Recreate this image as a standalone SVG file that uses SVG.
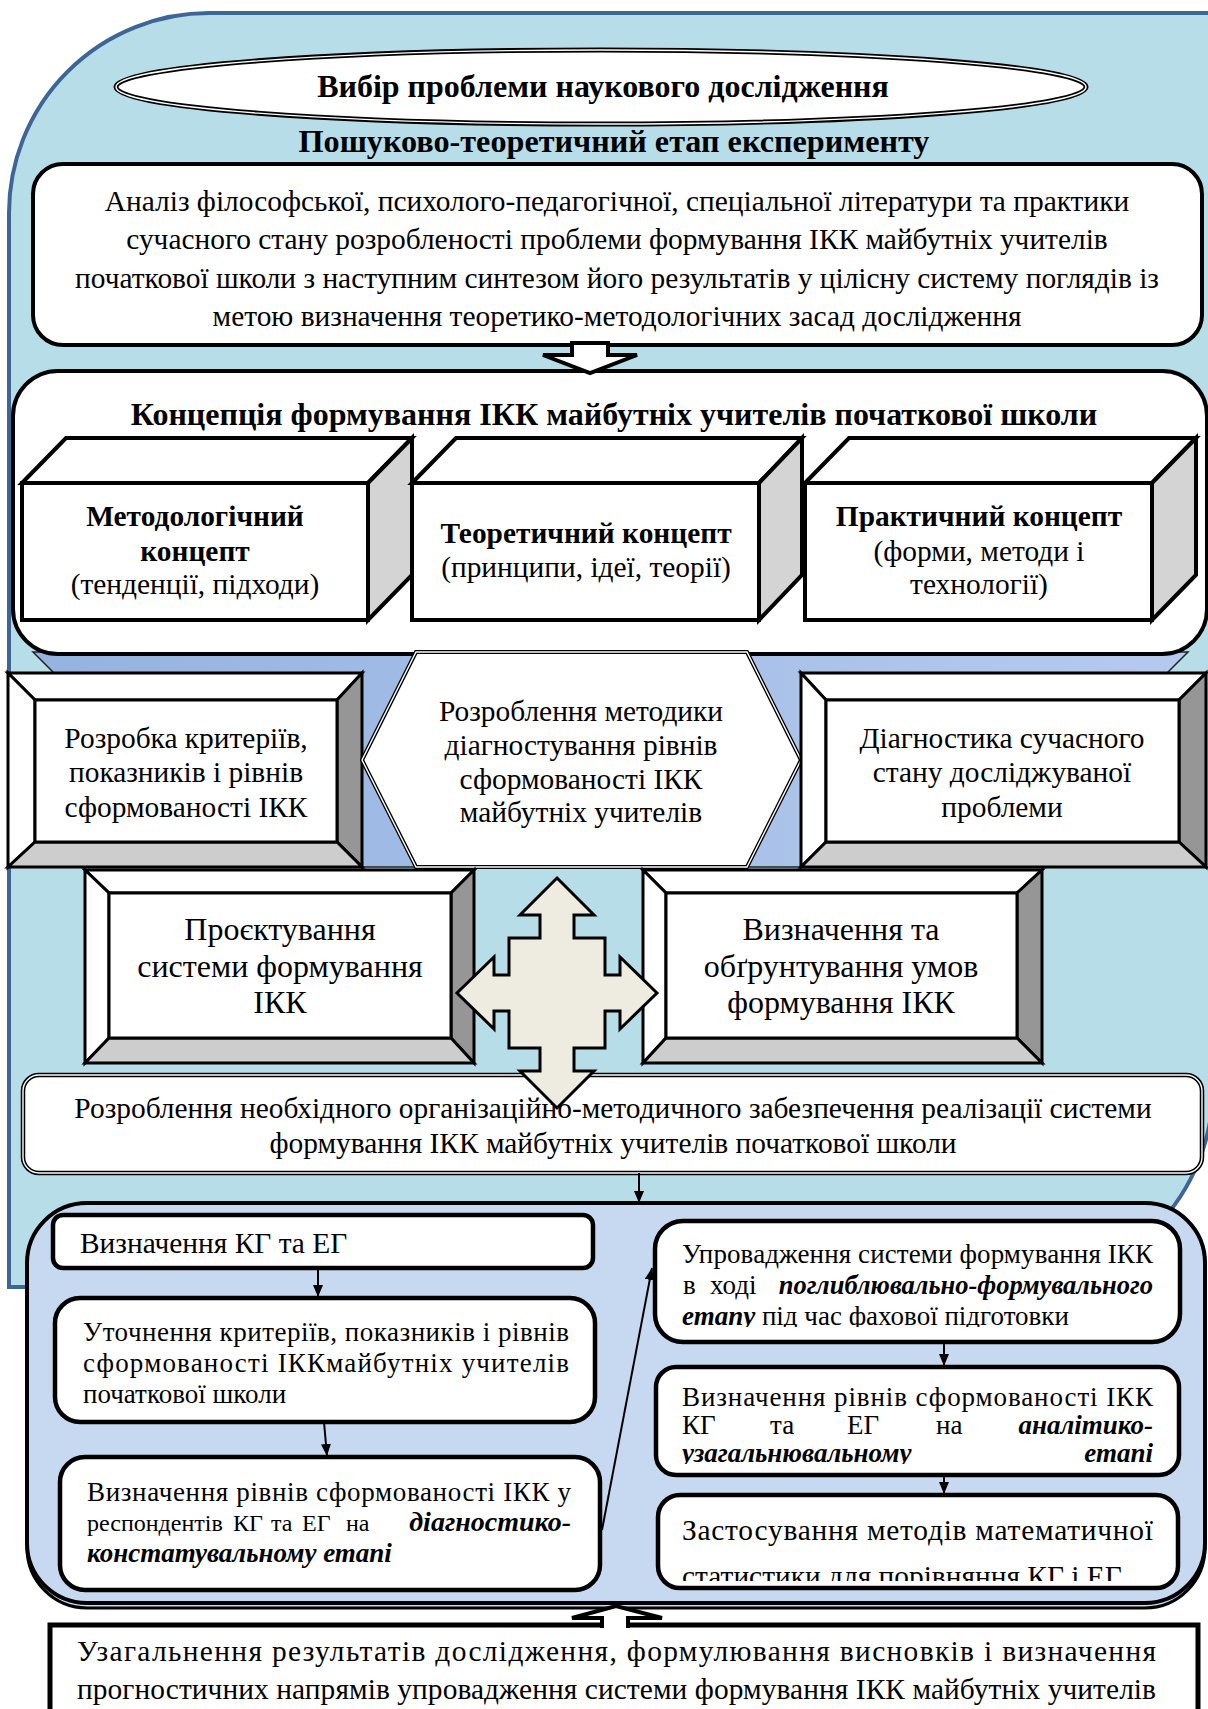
<svg xmlns="http://www.w3.org/2000/svg" width="1208" height="1709" viewBox="0 0 1208 1709">
<style>
text{font-family:'Liberation Serif','Times New Roman',serif;fill:#000}
.c{text-anchor:middle}
.e{text-anchor:end}
.b{font-weight:bold}
.bi{font-weight:bold;font-style:italic}
.f29{font-size:29.4px}
.f27{font-size:27px}
.f32{font-size:32px}
.box{fill:#fff;stroke:#000;stroke-width:4}
.pbox{fill:#fff;stroke:#000;stroke-width:4.5}
.dblw{fill:none;stroke:#fff;stroke-width:1.4}
.cube{stroke:#000;stroke-width:4;stroke-linejoin:miter}
.bev{stroke:#000;stroke-width:3;stroke-linejoin:miter}
.con{stroke:#000;stroke-width:2;fill:none;marker-end:url(#ah)}
</style>
<defs>
<marker id="ah" viewBox="0 0 12 10" markerWidth="12" markerHeight="10" refX="12" refY="5" orient="auto" markerUnits="userSpaceOnUse">
<path d="M0,0 L12,5 L0,10 Z" fill="#000"/>
</marker>
<linearGradient id="band" x1="0" y1="0" x2="1" y2="0">
<stop offset="0" stop-color="#95b3df"/>
<stop offset="1" stop-color="#b6caee"/>
</linearGradient>
<clipPath id="clipA"><rect x="60" y="1215" width="520" height="40"/></clipPath>
<clipPath id="clipD3"><rect x="670" y="1300" width="500" height="27"/></clipPath>
<clipPath id="clipE3"><rect x="670" y="1440" width="500" height="24"/></clipPath>
<clipPath id="clipF2"><rect x="670" y="1550" width="500" height="31"/></clipPath>
</defs>

<g id="background">
<path d="M209 13 H1213 V1087 A200 200 0 0 1 1013 1287 H9 V213 A200 200 0 0 1 209 13 Z" fill="#b7dde8" stroke="#3d6596" stroke-width="4"/>
</g>

<g id="title">
<ellipse cx="601" cy="87" rx="485" ry="37" fill="#fff" stroke="#000" stroke-width="5"/>
<ellipse cx="601" cy="87" rx="485" ry="37" class="dblw"/>
<text x="603" y="97" class="c b f32">Вибір проблеми наукового дослідження</text>
</g>

<g id="stage-title">
<text x="614" y="152" class="c b" font-size="32.2">Пошуково-теоретичний етап експерименту</text>
</g>

<g id="analysis">
<rect x="33" y="164" width="1169" height="181" rx="30" class="box"/>
<text class="c f29" x="617" y="211">Аналіз філософської, психолого-педагогічної, спеціальної літератури та практики</text>
<text class="c f29" x="617" y="249">сучасного стану розробленості проблеми формування ІКК майбутніх учителів</text>
<text class="c f29" x="617" y="288">початкової школи з наступним синтезом його результатів у цілісну систему поглядів із</text>
<text class="c f29" x="617" y="326">метою визначення теоретико-методологічних засад дослідження</text>
</g>

<g id="band">
<polygon points="33,652 1188,652 1155,685 1155,867 66,867 66,685" fill="url(#band)" stroke="#222" stroke-width="1.5"/>
</g>

<g id="concept">
<rect x="13" y="371" width="1194" height="283" rx="45" class="box"/>
<text class="c b f32" x="614" y="425">Концепція формування ІКК майбутніх учителів початкової школи</text>
</g>

<g id="cube-methodological">
<polygon class="cube" points="22,483 66,438 412,438 368,483" fill="#fff"/>
<polygon class="cube" points="368,483 412,438 412,575 368,620" fill="#d4d4d4"/>
<rect class="cube" x="22" y="483" width="346" height="137" fill="#fff"/>
<text class="c b f29" x="195" y="526">Методологічний</text>
<text class="c b f29" x="195" y="561">концепт</text>
<text class="c f29" x="195" y="594">(тенденції, підходи)</text>
</g>

<g id="cube-theoretical">
<polygon class="cube" points="412,483 456,438 802,438 759,483" fill="#fff"/>
<polygon class="cube" points="759,483 802,438 802,575 759,620" fill="#d4d4d4"/>
<rect class="cube" x="412" y="483" width="347" height="137" fill="#fff"/>
<text class="c b f29" x="586" y="543">Теоретичний концепт</text>
<text class="c f29" x="586" y="577">(принципи, ідеї, теорії)</text>
</g>

<g id="cube-practical">
<polygon class="cube" points="805,483 849,438 1196,438 1152,483" fill="#fff"/>
<polygon class="cube" points="1152,483 1196,438 1196,575 1152,620" fill="#d4d4d4"/>
<rect class="cube" x="805" y="483" width="347" height="137" fill="#fff"/>
<text class="c b f29" x="979" y="526">Практичний концепт</text>
<text class="c f29" x="979" y="561">(форми, методи і</text>
<text class="c f29" x="979" y="594">технології)</text>
</g>

<g id="criteria">
<polygon class="bev" points="8,673 362,673 337,700 35,700" fill="#fff"/>
<polygon class="bev" points="8,673 35,700 35,842 8,867" fill="#fff"/>
<polygon class="bev" points="362,673 362,867 337,842 337,700" fill="#969696"/>
<polygon class="bev" points="8,867 35,842 337,842 362,867" fill="#cdcdcd"/>
<rect class="bev" x="35" y="700" width="302" height="142" fill="#fff"/>
<text class="c f29" x="186" y="748">Розробка критеріїв,</text>
<text class="c f29" x="186" y="782">показників і рівнів</text>
<text class="c f29" x="186" y="817">сформованості ІКК</text>
</g>

<g id="methodics">
<polygon points="416,652 747,652 801,760 747,867 416,867 362,760" fill="#fff" stroke="#000" stroke-width="4"/>
<polygon points="416,652 747,652 801,760 747,867 416,867 362,760" class="dblw"/>
<text class="c f29" x="581" y="721">Розроблення методики</text>
<text class="c f29" x="581" y="755">діагностування рівнів</text>
<text class="c f29" x="581" y="789">сформованості ІКК</text>
<text class="c f29" x="581" y="822">майбутніх учителів</text>
</g>

<g id="diagnostics">
<polygon class="bev" points="801,673 1206,673 1179,700 826,700" fill="#fff"/>
<polygon class="bev" points="801,673 826,700 826,842 801,867" fill="#fff"/>
<polygon class="bev" points="1206,673 1206,867 1179,842 1179,700" fill="#969696"/>
<polygon class="bev" points="801,867 826,842 1179,842 1206,867" fill="#cdcdcd"/>
<rect class="bev" x="826" y="700" width="353" height="142" fill="#fff"/>
<text class="c f29" x="1002" y="748">Діагностика сучасного</text>
<text class="c f29" x="1002" y="782">стану досліджуваної</text>
<text class="c f29" x="1002" y="817">проблеми</text>
</g>

<g id="design">
<polygon class="bev" points="85,870 474,870 451,893 109,893" fill="#fff"/>
<polygon class="bev" points="85,870 109,893 109,1038 85,1063" fill="#fff"/>
<polygon class="bev" points="474,870 474,1063 451,1038 451,893" fill="#969696"/>
<polygon class="bev" points="85,1063 109,1038 451,1038 474,1063" fill="#cdcdcd"/>
<rect class="bev" x="109" y="893" width="342" height="145" fill="#fff"/>
<text class="c f32" x="280" y="940">Проєктування</text>
<text class="c f32" x="280" y="977">системи формування</text>
<text class="c f32" x="280" y="1013">ІКК</text>
</g>

<g id="conditions">
<polygon class="bev" points="643,870 1042,870 1017,893 666,893" fill="#fff"/>
<polygon class="bev" points="643,870 666,893 666,1038 643,1063" fill="#fff"/>
<polygon class="bev" points="1042,870 1042,1063 1017,1038 1017,893" fill="#969696"/>
<polygon class="bev" points="643,1063 666,1038 1017,1038 1042,1063" fill="#cdcdcd"/>
<rect class="bev" x="666" y="893" width="351" height="145" fill="#fff"/>
<text class="c f32" x="841" y="940">Визначення та</text>
<text class="c f32" x="841" y="977">обґрунтування умов</text>
<text class="c f32" x="841" y="1013">формування ІКК</text>
</g>

<g id="support">
<rect x="23" y="1075" width="1179" height="98" rx="16" fill="#fff" stroke="#000" stroke-width="4.5"/>
<rect x="23" y="1075" width="1179" height="98" rx="16" class="dblw"/>
<text class="c f29" x="613" y="1118">Розроблення необхідного організаційно-методичного забезпечення реалізації системи</text>
<text class="c f29" x="613" y="1153">формування ІКК майбутніх учителів початкової школи</text>
</g>

<g id="quad-arrow">
<polygon points="557,878 594,915 574,915 574,938 605,938 605,975 620,975 620,957 657,993 620,1029 620,1011 605,1011 605,1048 574,1048 574,1071 594,1071 557,1108 520,1071 540,1071 540,1048 509,1048 509,1011 494,1011 494,1029 457,993 494,957 494,975 509,975 509,938 540,938 540,915 520,915" fill="#eeece1" stroke="#000" stroke-width="3" stroke-linejoin="miter"/>
</g>

<g id="experiment-panel">
<rect x="27" y="1208" width="1178" height="400" rx="60" fill="#c6d9f1" stroke="#000" stroke-width="3"/>
<rect x="27" y="1203" width="1178" height="400" rx="60" fill="#c6d9f1" stroke="#000" stroke-width="4"/>
</g>

<g id="groups">
<rect x="53" y="1215" width="540" height="53" rx="10" class="pbox"/>
<text class="f29" x="80" y="1253" clip-path="url(#clipA)">Визначення КГ та ЕГ</text>
</g>

<g id="refine">
<rect x="55" y="1298" width="540" height="124" rx="25" class="pbox"/>
<text class="f27" x="83" y="1341" textLength="486" lengthAdjust="spacing">Уточнення критеріїв, показників і рівнів</text>
<text class="f27" x="83" y="1372" textLength="486" lengthAdjust="spacing">сформованості ІККмайбутніх учителів</text>
<text class="f27" x="83" y="1403">початкової школи</text>
</g>

<g id="diagnostic-stage">
<rect x="60" y="1457" width="540" height="133" rx="25" class="pbox"/>
<text class="f27" x="87" y="1501" textLength="484" lengthAdjust="spacing">Визначення рівнів сформованості ІКК у</text>
<text font-size="24" y="1531"><tspan x="87">респондентів</tspan><tspan x="233">КГ</tspan><tspan x="271">та</tspan><tspan x="302">ЕГ</tspan><tspan x="346">на</tspan></text>
<text class="bi e" font-size="28" x="571" y="1531">діагностико-</text>
<text class="f27 bi" x="87" y="1562">констатувальному етапі</text>
</g>

<g id="formative-stage">
<rect x="655" y="1221" width="525" height="121" rx="28" class="pbox"/>
<text class="f27" x="682" y="1263" textLength="471" lengthAdjust="spacing">Упровадження системи формування ІКК</text>
<text class="f27" y="1294"><tspan x="683">в</tspan><tspan x="710">ході</tspan></text>
<text class="bi e" font-size="26.5" x="1153" y="1294">поглиблювально-формувального</text>
<text class="f27" x="682" y="1325" clip-path="url(#clipD3)"><tspan class="bi">етапу</tspan> під час фахової підготовки</text>
</g>

<g id="analytic-stage">
<rect x="656" y="1367" width="523" height="108" rx="20" class="pbox"/>
<text class="f27" x="682" y="1406" textLength="471" lengthAdjust="spacing">Визначення рівнів сформованості ІКК</text>
<text class="f27" y="1434"><tspan x="682">КГ</tspan><tspan x="770">та</tspan><tspan x="847">ЕГ</tspan><tspan x="936">на</tspan></text>
<text class="f27 bi e" x="1153" y="1434">аналітико-</text>
<text class="f27 bi" x="682" y="1462" clip-path="url(#clipE3)">узагальнювальному</text>
<text class="f27 bi e" x="1153" y="1462" clip-path="url(#clipE3)">етапі</text>
</g>

<g id="statistics">
<rect x="658" y="1495" width="520" height="93" rx="22" class="pbox"/>
<text class="f29" x="682" y="1540" textLength="471" lengthAdjust="spacing">Застосування методів математичної</text>
<text class="f29" x="682" y="1586" clip-path="url(#clipF2)">статистики для порівняння КГ і ЕГ</text>
</g>

<g id="conclusions">
<rect x="50" y="1625" width="1148" height="120" fill="#fff" stroke="#000" stroke-width="5"/>
<text class="f29" x="77" y="1661" textLength="1079" lengthAdjust="spacing">Узагальнення результатів дослідження, формулювання висновків і визначення</text>
<text class="f29" x="77" y="1699" textLength="1079" lengthAdjust="spacing">прогностичних напрямів упровадження системи формування ІКК майбутніх учителів</text>
</g>

<g id="connectors">
<path d="M572,343 H608 V355 H637 L590,373 L543,355 H572 Z" fill="#fff" stroke="#000" stroke-width="4" stroke-linejoin="miter"/>
<line class="con" x1="639" y1="1173" x2="639" y2="1203"/>
<line class="con" x1="318" y1="1268" x2="318" y2="1297"/>
<line class="con" x1="324" y1="1422" x2="327" y2="1456"/>
<line class="con" x1="602" y1="1530" x2="652" y2="1268"/>
<line class="con" x1="944" y1="1342" x2="944" y2="1366"/>
<line class="con" x1="944" y1="1475" x2="944" y2="1494"/>
<path d="M602,1628 V1618 H572 L616,1606 L662,1618 H628 V1628" fill="#fff" stroke="#000" stroke-width="4" stroke-linejoin="miter"/>
</g>
</svg>
